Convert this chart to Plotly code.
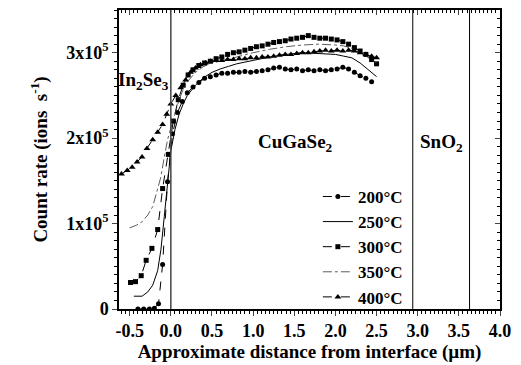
import plotly.graph_objects as go

# ---- data (y in units of 1e5 ions/s) ----
x200 = [-0.40,-0.33,-0.26,-0.20,-0.15,-0.10,-0.04,0.02,0.08,0.14,0.20,0.27,0.34,0.41,0.48,0.55,0.62,0.69,0.76,0.83,0.90,0.97,1.04,1.11,1.18,1.25,1.32,1.39,1.46,1.53,1.60,1.67,1.74,1.81,1.88,1.95,2.02,2.09,2.16,2.23,2.30,2.37,2.44]
y200 = [0.0,0.0,0.0,0.01,0.06,0.52,1.49,2.05,2.30,2.43,2.53,2.60,2.65,2.70,2.72,2.74,2.76,2.76,2.77,2.77,2.78,2.77,2.78,2.79,2.80,2.82,2.83,2.81,2.80,2.81,2.79,2.80,2.79,2.80,2.79,2.80,2.81,2.83,2.81,2.77,2.73,2.70,2.66]

x250 = [-0.45,-0.35,-0.28,-0.22,-0.16,-0.12,-0.08,-0.04,0.0,0.05,0.1,0.15,0.2,0.3,0.4,0.5,0.6,0.7,0.8,1.0,1.2,1.4,1.6,1.8,2.0,2.1,2.2,2.3,2.4,2.5]
y250 = [0.15,0.15,0.20,0.28,0.45,0.70,1.08,1.50,1.85,2.10,2.28,2.40,2.50,2.62,2.71,2.77,2.81,2.84,2.87,2.91,2.95,2.98,3.00,2.99,2.98,2.96,2.94,2.88,2.80,2.72]

x300 = [-0.49,-0.43,-0.36,-0.30,-0.23,-0.16,-0.10,-0.03,0.03,0.09,0.15,0.21,0.27,0.34,0.41,0.48,0.55,0.62,0.69,0.76,0.83,0.90,0.97,1.04,1.11,1.18,1.25,1.32,1.39,1.46,1.53,1.60,1.67,1.74,1.81,1.88,1.95,2.02,2.09,2.16,2.23,2.30,2.37,2.44,2.50]
y300 = [0.31,0.32,0.39,0.57,0.71,0.93,1.41,1.81,2.20,2.45,2.62,2.74,2.80,2.85,2.88,2.90,2.93,2.95,2.98,3.00,3.01,3.03,3.05,3.07,3.08,3.10,3.12,3.13,3.14,3.16,3.17,3.18,3.20,3.18,3.17,3.17,3.16,3.15,3.13,3.10,3.06,3.02,2.98,2.92,2.87]

x350 = [-0.50,-0.42,-0.35,-0.28,-0.22,-0.17,-0.12,-0.08,-0.04,0.0,0.05,0.1,0.15,0.2,0.3,0.4,0.5,0.6,0.7,0.8,1.0,1.2,1.4,1.6,1.8,2.0,2.1,2.2,2.3,2.4,2.5]
y350 = [0.95,0.98,1.02,1.10,1.20,1.36,1.55,1.78,1.98,2.12,2.30,2.45,2.57,2.66,2.77,2.84,2.88,2.90,2.92,2.95,3.00,3.04,3.07,3.09,3.10,3.09,3.08,3.05,3.00,2.94,2.88]

x400 = [-0.60,-0.53,-0.47,-0.41,-0.35,-0.29,-0.22,-0.16,-0.10,-0.05,0.0,0.06,0.12,0.18,0.24,0.30,0.36,0.42,0.48,0.55,0.62,0.69,0.76,0.83,0.90,0.97,1.04,1.11,1.18,1.25,1.32,1.39,1.46,1.53,1.60,1.67,1.74,1.81,1.88,1.95,2.02,2.09,2.16,2.23,2.30,2.37,2.44,2.50]
y400 = [1.58,1.62,1.66,1.72,1.78,1.88,1.98,2.07,2.16,2.28,2.40,2.50,2.59,2.68,2.77,2.82,2.86,2.88,2.90,2.91,2.91,2.92,2.92,2.93,2.93,2.94,2.94,2.95,2.95,2.96,2.97,2.98,2.98,2.99,3.00,3.00,3.01,3.02,3.03,3.02,3.03,3.02,3.03,3.02,3.00,2.98,2.96,2.94]

layer_bounds = [0.0, 2.94, 3.63]
layer_labels = ["In<sub>2</sub>Se<sub>3</sub>", "CuGaSe<sub>2</sub>", "SnO<sub>2</sub>"]
layer_label_pos = [(-0.33, 2.67), (1.52, 1.94), (3.29, 1.94)]

ytick_vals = [0, 1, 2, 3]
ytick_text = ["0", "1x10<sup>5</sup>", "2x10<sup>5</sup>", "3x10<sup>5</sup>"]
xtick_vals = [-0.5, 0.0, 0.5, 1.0, 1.5, 2.0, 2.5, 3.0, 3.5, 4.0]
xtick_text = ["-0.5", "0.0", "0.5", "1.0", "1.5", "2.0", "2.5", "3.0", "3.5", "4.0"]

FONT = "Liberation Serif"
fig = go.Figure()

def add(x, y, name, dash, symbol=None, width=1, color="black", msize=5):
    mode = "lines+markers" if symbol else "lines"
    fig.add_trace(go.Scatter(
        x=x, y=y, name=name, mode=mode,
        line=dict(color=color, width=width, dash=dash),
        marker=dict(symbol=symbol or "circle", size=msize, color="black") if symbol else None,
    ))

add(x200, y200, "200°C", "dash", "circle", msize=5)
add(x250, y250, "250°C", "solid", None)
add(x300, y300, "300°C", "dash", "square", msize=5)
add(x350, y350, "350°C", "dashdot", None, width=0.8, color="#333")
add(x400, y400, "400°C", "dash", "triangle-up", msize=6)

fig.add_trace(go.Scatter(x=[], y=[], xaxis="x2", yaxis="y2", showlegend=False))

for xb in layer_bounds:
    fig.add_shape(type="line", x0=xb, x1=xb, y0=0, y1=1, xref="x", yref="paper",
                  line=dict(color="#444" if xb == 0 else "black", width=1.5 if xb == 0 else 1))

for txt, (px, py) in zip(layer_labels, layer_label_pos):
    fig.add_annotation(x=px, y=py, text=txt, showarrow=False,
                       font=dict(family=FONT, size=19, color="black", weight="bold"))

xr = [-0.63, 4.0]
yr = [0, 3.5]
fig.update_layout(
    width=521, height=365,
    margin=dict(l=119, r=15, t=10, b=51),
    paper_bgcolor="white", plot_bgcolor="white",
    font=dict(family=FONT, size=18, color="black", weight="bold"),
    xaxis=dict(range=xr, tickvals=xtick_vals, ticktext=xtick_text, ticks="outside",
               ticklen=5, tickwidth=1, showgrid=False, zeroline=False,
               showline=True, linecolor="black", linewidth=1.5,
               tickfont=dict(size=18, weight="bold"),
               minor=dict(dtick=0.05, ticks="outside", ticklen=3, tickcolor="black"),
               title=dict(text="Approximate distance from interface (µm)", standoff=0,
                          font=dict(size=19, weight="bold"))),
    yaxis=dict(range=yr, tickvals=ytick_vals, ticktext=ytick_text, ticks="outside",
               ticklen=5, tickwidth=1, showgrid=False, zeroline=False,
               showline=True, linecolor="black", linewidth=1.5,
               tickfont=dict(size=18, weight="bold"),
               minor=dict(dtick=0.1, ticks="outside", ticklen=3, tickcolor="black"),
               title=dict(text="Count rate (ions  s<sup>-1</sup>)", standoff=14,
                          font=dict(size=19, weight="bold"))),
    xaxis2=dict(range=xr, overlaying="x", side="top", anchor="y", ticks="inside",
                tickvals=xtick_vals, showticklabels=False, ticklen=5, showgrid=False,
                zeroline=False, showline=True, linecolor="black", linewidth=1.5,
                minor=dict(dtick=0.05, ticks="inside", ticklen=3, tickcolor="black")),
    yaxis2=dict(range=yr, overlaying="y", side="right", anchor="x", ticks="inside",
                tickvals=ytick_vals, showticklabels=False, ticklen=5, showgrid=False,
                zeroline=False, showline=True, linecolor="black", linewidth=1.5,
                minor=dict(dtick=0.1, ticks="inside", ticklen=3, tickcolor="black")),
    legend=dict(x=0.522, y=0.435, xanchor="left", yanchor="top",
                bgcolor="rgba(0,0,0,0)", font=dict(family=FONT, size=17, weight="bold"),
                tracegroupgap=0, itemwidth=30),
    showlegend=True,
)

fig.write_html("out.html")
